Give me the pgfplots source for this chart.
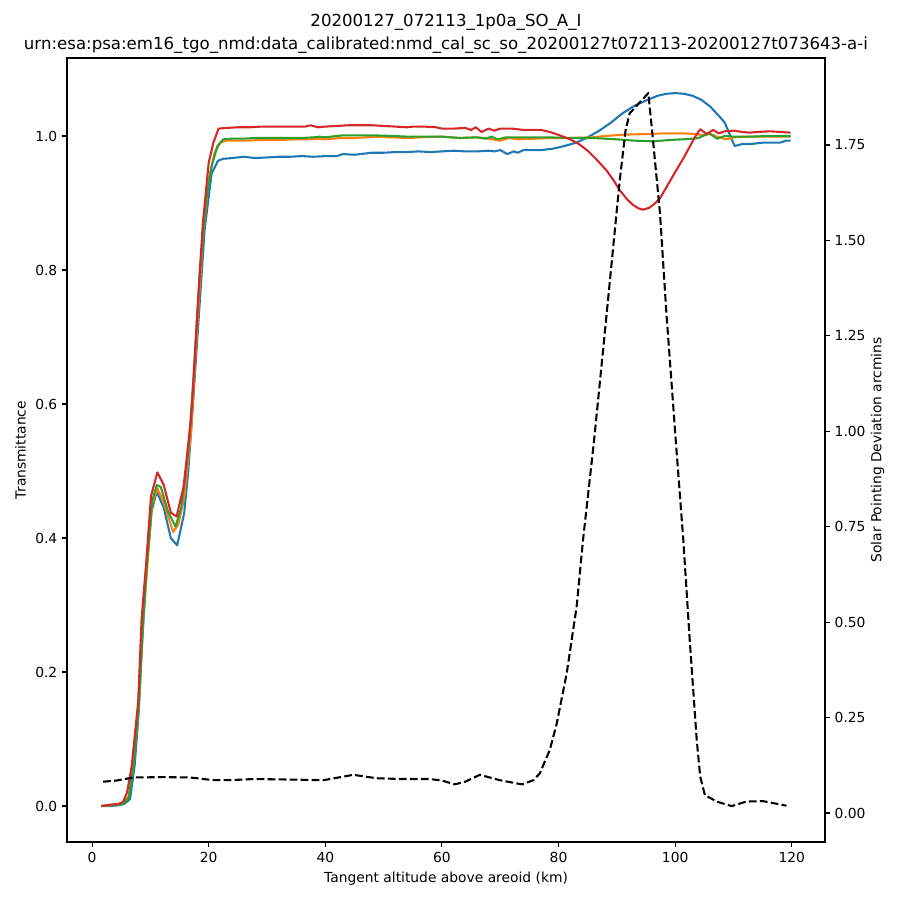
\documentclass[border=0pt]{standalone}
\usepackage{pgfplots}
\pgfplotsset{compat=1.18}
\usepackage{fontspec}
\setmainfont{DejaVu Sans}
\definecolor{c0}{HTML}{1F77B4}
\definecolor{c1}{HTML}{FF7F0E}
\definecolor{c2}{HTML}{2CA02C}
\definecolor{c3}{HTML}{D62728}
\begin{document}
\begin{tikzpicture}[font=\fontsize{10}{12}\selectfont]
\useasboundingbox (-0.67in,-0.58in) rectangle (8.33in,8.42in);
\begin{axis}[at={(0,0)}, anchor=south west, scale only axis,
  width=7.58in, height=7.84in,
  xmin=-4.3, xmax=125.7, ymin=-0.0537, ymax=1.1164,
  xtick={0,20,40,60,80,100,120},
  ytick={0,0.2,0.4,0.6,0.8,1.0},
  xtick pos=bottom, ytick pos=left,
  tick align=outside, major tick length=3.5pt,
  every tick/.style={line width=0.8pt, black},
  axis line style={line width=0.8pt},
  /pgf/number format/assume math mode=true,
  yticklabel style={/pgf/number format/fixed, /pgf/number format/fixed zerofill, /pgf/number format/precision=1},
  xticklabel style={/pgf/number format/fixed},
  tick label style={font=\fontsize{10}{12}\selectfont},
  xlabel={Tangent altitude above areoid (km)},
  ylabel={Transmittance},
  title={20200127\_072113\_1p0a\_SO\_A\_I\\[1.4pt]urn:esa:psa:em16\_tgo\_nmd:data\_calibrated:nmd\_cal\_sc\_so\_20200127t072113-20200127t073643-a-i},
  title style={align=center, font=\fontsize{12}{15.8}\selectfont, yshift=-6.5pt},
  every axis plot/.append style={line width=1.5pt, line join=round},
  clip=true]
\addplot[c0] coordinates {
(1.6,0.0) (3,0.0) (4.5,0.001) (5.5,0.003) (6.5,0.01) (7.3,0.06) (8,0.14) (8.7,0.26) (9.4,0.36) (10.2,0.44) (11.1,0.469) (12.3,0.445) (13.5,0.40) (14.6,0.389) (15.8,0.437) (16.5,0.50) (17.3,0.60) (18.3,0.73) (19.3,0.86) (20.5,0.944) (21.6,0.963) (22.5,0.966) (24,0.967) (26,0.969) (28,0.967) (30,0.968) (32,0.969) (34,0.969) (36,0.970) (38,0.969) (40,0.970) (42,0.970) (43,0.973) (45,0.972) (48,0.975) (50,0.975) (52,0.976) (54,0.976) (56,0.977) (58,0.976) (60,0.977) (62,0.978) (64,0.977) (66,0.977) (68,0.978) (69,0.977) (70,0.979) (71.2,0.973) (72.3,0.977) (73,0.975) (74,0.979) (77,0.979) (79,0.981) (81,0.985) (83,0.99) (85,0.998) (87,1.008) (89,1.02) (91,1.034) (93,1.045) (95,1.053) (97,1.060) (98.5,1.063) (100,1.064) (101.5,1.063) (103,1.060) (104.5,1.054) (106,1.044) (107.5,1.03) (108.5,1.020) (110.2,0.985) (111.5,0.988) (113,0.988) (115,0.990) (117,0.990) (118,0.990) (119,0.993) (119.8,0.993)
};
\addplot[c1] coordinates {
(1.6,0.0) (3,0.001) (4.5,0.002) (5.5,0.005) (6.3,0.015) (7.1,0.06) (8,0.15) (8.7,0.27) (9.5,0.36) (10.3,0.45) (11.2,0.474) (12.2,0.455) (13.9,0.409) (14.8,0.42) (15.8,0.46) (17,0.56) (18,0.71) (19,0.85) (20,0.935) (21,0.975) (22,0.990) (23,0.993) (26.5,0.993) (29,0.994) (32,0.994) (35,0.995) (37.4,0.995) (38.5,0.996) (40,0.995) (42.5,0.997) (45,0.997) (47,0.998) (49.4,0.999) (51,0.998) (54.5,0.997) (56,0.998) (60,0.999) (63,0.997) (66,0.998) (68,0.996) (70,0.993) (71.5,0.997) (73,0.995) (76,0.996) (78.5,0.997) (82,0.997) (85.9,0.998) (88,1.000) (91.1,1.002) (95.6,1.003) (98,1.004) (101.3,1.004) (103.5,1.003) (104.8,1.001) (106,1.003) (107.5,0.998) (108.8,0.995) (110,0.998) (112.8,0.999) (116,0.999) (119.8,0.999)
};
\addplot[c2] coordinates {
(1.6,0.0) (3,0.001) (4.5,0.002) (5.5,0.004) (6.3,0.013) (7.1,0.06) (8,0.15) (8.7,0.27) (9.5,0.37) (10.3,0.455) (11.1,0.479) (11.8,0.476) (13,0.44) (14.3,0.417) (15.3,0.445) (16.5,0.53) (17.5,0.65) (18.5,0.80) (19.5,0.90) (20.5,0.955) (21.5,0.985) (22.5,0.995) (24,0.996) (26,0.996) (28,0.997) (32,0.997) (36,0.997) (38,0.998) (39,0.999) (40,0.998) (43,1.001) (46,1.001) (48,1.001) (51.7,1.000) (54,0.999) (57,0.999) (60,0.999) (63,0.997) (66,0.998) (67.5,0.996) (68.5,0.999) (69.5,0.995) (71,0.998) (74,0.998) (78,0.998) (82,0.997) (86,0.997) (90,0.995) (93,0.993) (96.2,0.992) (99,0.994) (101.3,0.995) (103,0.996) (104,0.997) (105.8,1.004) (107.2,0.996) (108.5,1.000) (110,0.999) (113,0.999) (116,1.000) (119.8,1.000)
};
\addplot[c3] coordinates {
(1.6,0.0) (3,0.002) (4.5,0.003) (5.3,0.006) (6,0.02) (6.8,0.06) (7.9,0.155) (8.5,0.28) (9.3,0.365) (10.1,0.462) (11.2,0.498) (12.3,0.479) (13.5,0.438) (14.5,0.432) (15.7,0.477) (17,0.58) (18,0.73) (19,0.87) (20,0.96) (20.8,0.99) (21.7,1.011) (23,1.012) (25,1.013) (27,1.013) (29,1.014) (31,1.014) (33,1.014) (35,1.014) (36.5,1.014) (37.5,1.016) (38.7,1.013) (40,1.014) (42,1.015) (44,1.016) (46,1.016) (48,1.016) (50,1.015) (52,1.014) (54,1.013) (55,1.014) (57,1.014) (59,1.013) (60,1.011) (62,1.011) (64,1.012) (65,1.009) (65.8,1.013) (66.8,1.006) (68,1.011) (69,1.008) (70,1.011) (72,1.011) (74,1.009) (77,1.009) (78.5,1.006) (80.2,1.001) (82,0.995) (83.5,0.988) (85,0.978) (86.5,0.965) (88.2,0.949) (89.5,0.933) (90.5,0.919) (91.8,0.905) (92.8,0.897) (93.7,0.892) (94.5,0.890) (95.6,0.893) (96.5,0.899) (97.4,0.907) (98.8,0.928) (100.2,0.949) (101.5,0.968) (102.5,0.984) (103.5,1.000) (104.3,1.010) (105.4,1.003) (106.5,1.009) (107.5,1.004) (108.5,1.007) (110,1.008) (111.5,1.006) (112.8,1.005) (114,1.006) (116.3,1.007) (118,1.006) (119.8,1.005)
};
\end{axis}
\begin{axis}[at={(0,0)}, anchor=south west, scale only axis,
  width=7.58in, height=7.84in,
  xmin=-4.3, xmax=125.7, ymin=-0.076, ymax=1.978,
  axis x line=none, axis y line*=right,
  ytick={0,0.25,0.5,0.75,1.0,1.25,1.5,1.75},
  tick align=outside, major tick length=3.5pt,
  every tick/.style={line width=0.8pt, black},
  axis line style={line width=0.8pt},
  /pgf/number format/assume math mode=true,
  yticklabel style={/pgf/number format/fixed, /pgf/number format/fixed zerofill, /pgf/number format/precision=2},
  tick label style={font=\fontsize{10}{12}\selectfont},
  ylabel={Solar Pointing Deviation arcmins},
  ylabel shift=-3pt,
  every axis plot/.append style={line width=1.5pt, line join=round},
  clip=true]
\addplot[black, dash pattern=on 5.55pt off 2.4pt] coordinates {
(1.9,0.082) (4.2,0.085) (7.1,0.093) (12.2,0.094) (16.8,0.093) (20.8,0.086) (23.7,0.086) (27.7,0.089) (32.3,0.088) (39.7,0.086) (44.8,0.100) (48.8,0.091) (53,0.089) (57.9,0.089) (60,0.085) (62.2,0.075) (64,0.082) (66.5,0.100) (69.9,0.086) (73.7,0.075) (75.7,0.086) (76.8,0.104) (77.4,0.126) (78.5,0.165) (79.7,0.235) (81.4,0.366) (83.1,0.54) (84.2,0.715) (86.1,0.977) (87.7,1.222) (89.1,1.44) (90.5,1.658) (91.5,1.789) (92.2,1.833) (95.4,1.886) (96.2,1.763) (97.4,1.571) (98.5,1.309) (100.1,0.977) (101.4,0.715) (102.5,0.453) (103.7,0.191) (104.3,0.095) (105.1,0.047) (107.1,0.030) (109.7,0.018) (112.2,0.030) (115.1,0.031) (119.1,0.019)
};
\end{axis}
\end{tikzpicture}
\end{document}
